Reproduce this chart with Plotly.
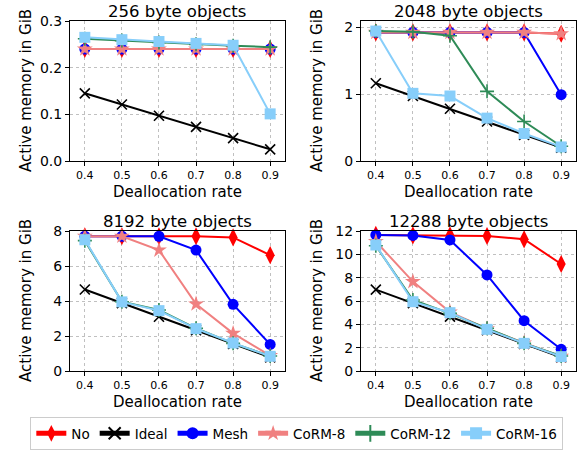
import plotly.graph_objects as go

rates = [0.4, 0.5, 0.6, 0.7, 0.8, 0.9]
titles = ["256 byte objects", "2048 byte objects", "8192 byte objects", "12288 byte objects"]
series_names = ["No", "Ideal", "Mesh", "CoRM-8", "CoRM-12", "CoRM-16"]

no_vals = [
    [0.240, 0.240, 0.240, 0.240, 0.240, 0.240],
    [1.92, 1.92, 1.92, 1.92, 1.92, 1.90],
    [7.70, 7.70, 7.70, 7.70, 7.63, 6.62],
    [11.66, 11.62, 11.62, 11.57, 11.29, 9.17],
]
ideal_vals = [
    [0.145, 0.121, 0.097, 0.073, 0.049, 0.025],
    [1.16, 0.97, 0.78, 0.59, 0.39, 0.20],
    [4.66, 3.88, 3.10, 2.33, 1.55, 0.78],
    [6.98, 5.82, 4.66, 3.49, 2.33, 1.17],
]
mesh_vals = [
    [0.240, 0.240, 0.240, 0.240, 0.240, 0.240],
    [1.92, 1.92, 1.92, 1.92, 1.92, 0.99],
    [7.70, 7.70, 7.70, 6.91, 3.81, 1.52],
    [11.66, 11.62, 11.23, 8.23, 4.31, 1.86],
]
corm8_vals = [
    [0.240, 0.240, 0.240, 0.240, 0.240, 0.240],
    [1.92, 1.92, 1.92, 1.92, 1.92, 1.90],
    [7.70, 7.70, 6.91, 3.83, 2.15, 0.88],
    [11.10, 7.66, 5.05, 3.62, 2.40, 1.25],
]
corm12_vals = [
    [0.262, 0.258, 0.254, 0.250, 0.247, 0.244],
    [1.94, 1.93, 1.87, 1.04, 0.59, 0.22],
    [7.45, 3.96, 3.49, 2.44, 1.58, 0.86],
    [10.74, 6.09, 4.94, 3.66, 2.37, 1.29],
]
corm16_vals = [
    [0.265, 0.260, 0.256, 0.252, 0.248, 0.101],
    [1.94, 1.01, 0.97, 0.64, 0.41, 0.21],
    [7.50, 3.95, 3.45, 2.42, 1.60, 0.84],
    [10.80, 5.94, 5.00, 3.57, 2.37, 1.23],
]
y_ranges = [[0, 0.3], [0, 2.09], [0, 8], [0, 12]]
y_ticks = [[0.0, 0.1, 0.2, 0.3], [0, 1, 2], [0, 2, 4, 6, 8], [0, 2, 4, 6, 8, 10, 12]]
y_ticktext = [["0.0", "0.1", "0.2", "0.3"], ["0", "1", "2"], ["0", "2", "4", "6", "8"],
              ["0", "2", "4", "6", "8", "10", "12"]]

all_vals = [no_vals, ideal_vals, mesh_vals, corm8_vals, corm12_vals, corm16_vals]
colors = ["#ff0000", "#000000", "#0000ff", "#f08080", "#2e8b57", "#87cefa"]
symbols = ["diamond-tall", "x-thin", "circle", "star", "cross-thin", "square"]
msizes = [13, 10, 11, 12, 10, 11]

W, H = 582, 452
xdoms = [[70 / W, 285 / W], [361 / W, 576 / W]]
ydoms = [[1 - 161 / H, 1 - 21 / H], [1 - 371 / H, 1 - 231 / H]]

fig = go.Figure()
font = "DejaVu Sans"
annotations = []
for p in range(4):
    r, c = divmod(p, 2)
    xa = "x" if p == 0 else f"x{p+1}"
    ya = "y" if p == 0 else f"y{p+1}"
    for s in range(6):
        sym = symbols[s]
        mk = dict(symbol=sym, size=msizes[s], color=colors[s])
        if sym in ("x-thin", "cross-thin"):
            mk["line"] = dict(color=colors[s], width=1.6)
        fig.add_trace(go.Scatter(
            x=rates, y=all_vals[s][p], mode="lines+markers", name=series_names[s],
            line=dict(color=colors[s], width=2), marker=mk,
            xaxis=xa, yaxis=ya, showlegend=(p == 0), cliponaxis=False))
    axkw = dict(showline=True, linecolor="black", linewidth=1, mirror=True,
                ticks="outside", ticklen=4, tickcolor="black",
                showgrid=True, gridcolor="#c0c0c0", griddash="dot", gridwidth=1,
                zeroline=False, automargin=False)
    fig.layout[("xaxis" if p == 0 else f"xaxis{p+1}")] = dict(
        domain=xdoms[c], range=[0.36, 0.94], anchor=ya,
        tickvals=rates, ticktext=[f"{v:.1f}" for v in rates],
        tickfont=dict(size=11, family=font, color="black"), **axkw)
    fig.layout[("yaxis" if p == 0 else f"yaxis{p+1}")] = dict(
        domain=ydoms[r], range=y_ranges[p], anchor=xa,
        tickvals=y_ticks[p], ticktext=y_ticktext[p],
        tickfont=dict(size=14, family=font, color="black"), **axkw)
    xmid = (xdoms[c][0] + xdoms[c][1]) / 2
    annotations.append(dict(text=titles[p], x=xmid, y=ydoms[r][1], xref="paper", yref="paper",
                            xanchor="center", yanchor="bottom", yshift=-2, showarrow=False,
                            font=dict(size=16.5, family=font, color="black")))
    annotations.append(dict(text="Deallocation rate", x=xmid, y=ydoms[r][0], xref="paper",
                            yref="paper", xanchor="center", yanchor="top", yshift=-20,
                            showarrow=False, font=dict(size=15, family=font, color="black")))
    annotations.append(dict(text="Active memory in GiB", x=xdoms[c][0], y=(ydoms[r][0] + ydoms[r][1]) / 2,
                            xref="paper", yref="paper", xanchor="center", yanchor="middle",
                            xshift=-44, textangle=-90, showarrow=False,
                            font=dict(size=15, family=font, color="black")))

fig.update_layout(
    width=W, height=H, margin=dict(l=0, r=0, t=0, b=0, autoexpand=False),
    paper_bgcolor="white", plot_bgcolor="white",
    annotations=annotations,
    legend=dict(orientation="h", x=0.51, y=2 / H, xanchor="center", yanchor="bottom",
                bordercolor="#cccccc", borderwidth=1, bgcolor="white",
                font=dict(size=13.5, family=font, color="black"),
                itemwidth=30, tracegroupgap=0, itemsizing="constant"),
)
fig.write_html("out.html", config={"displayModeBar": False},
               post_script="document.body.style.margin='0';document.body.style.overflow='hidden';")
